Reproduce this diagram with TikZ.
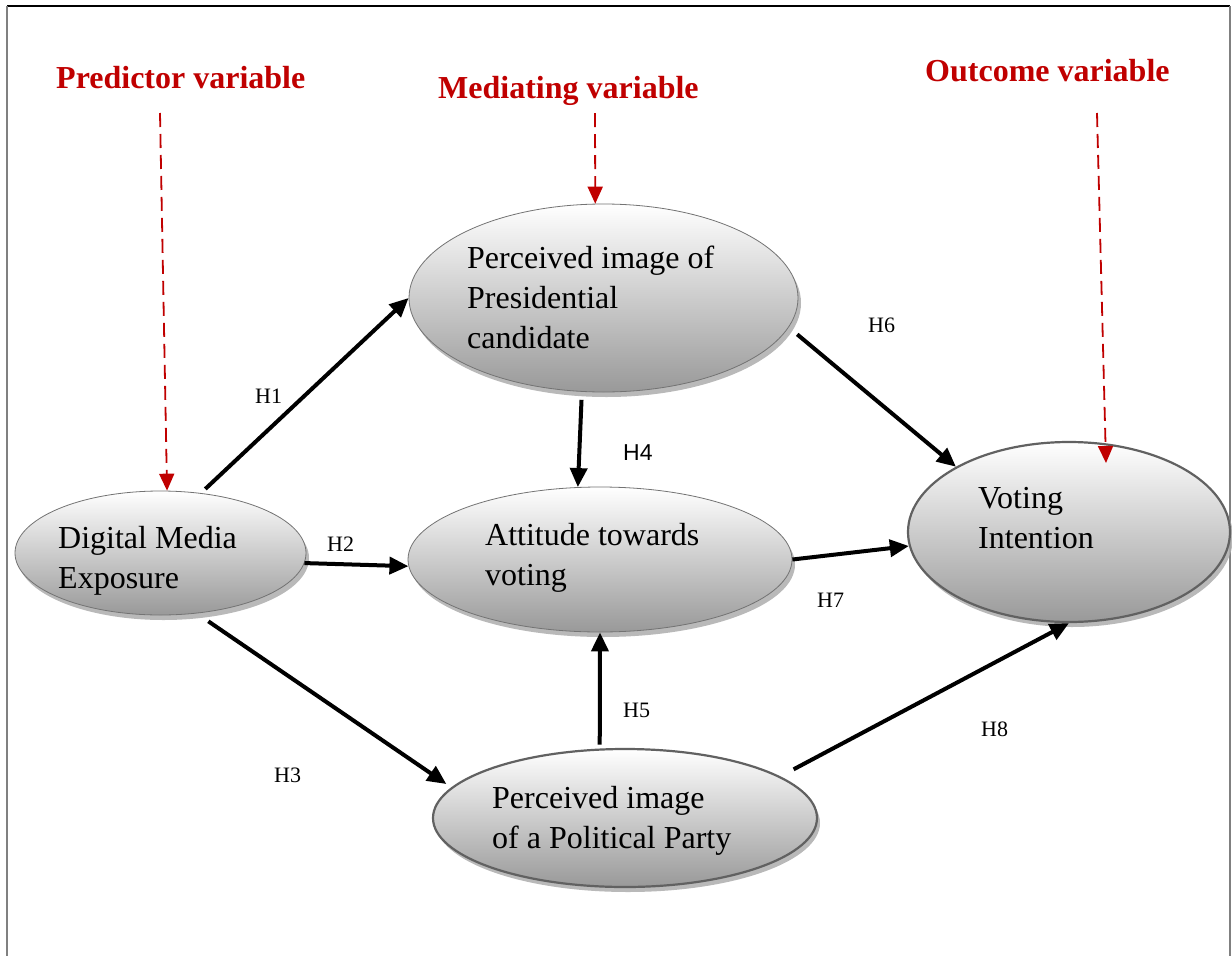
\documentclass[tikz,border=0pt]{standalone}
\usepackage{fontspec}
\setmainfont{Liberation Serif}
\newfontfamily\hsans{Liberation Sans}
\usetikzlibrary{arrows.meta,shapes.geometric,shadows,calc}
\definecolor{darkred}{HTML}{C00000}
\begin{document}
\begin{tikzpicture}[x=1pt,y=-1pt,
  var/.style={ellipse, inner sep=0pt, draw=black!55, line width=0.8pt,
    top color=white, bottom color=black!40,
    drop shadow={shadow xshift=3pt, shadow yshift=-5pt, fill=black!32, opacity=0.85}},
  thickvar/.style={var, draw=black!62, line width=2.2pt},
  body/.style={anchor=base west, align=left, inner sep=0pt,
    font=\fontsize{32}{40}\selectfont},
  head/.style={anchor=base west, inner sep=0pt, text=darkred,
    font=\fontsize{32}{38}\selectfont\bfseries},
  hlab/.style={anchor=base west, inner sep=0pt, font=\fontsize{22}{26}\selectfont},
  harrow/.style={line width=4pt, -{Triangle[length=19pt,width=17pt]}},
  rarrow/.style={darkred, line width=1.8pt, dash pattern=on 14pt off 7pt,
    -{Triangle[length=17pt,width=15pt]}}
]
\useasboundingbox (0,0) rectangle (1232,956);
\fill[white] (0,0) rectangle (1232,956);
% frame
\draw[black, line width=1.5pt] (7,6) -- (1230,6);
\draw[black!50, line width=2pt] (7,6) -- (7,956);
\draw[black!50, line width=2pt] (1230,6) -- (1230,956);

% ellipses
\node[var, minimum width=291pt, minimum height=124pt] (dme) at (160.5,553) {};
\node[var, minimum width=389pt, minimum height=188pt] (ppc) at (603.5,298) {};
\node[var, minimum width=384pt, minimum height=145pt] (att) at (600,559.5) {};
\node[thickvar, minimum width=322pt, minimum height=180pt] (vi) at (1069,532) {};
\node[thickvar, minimum width=384pt, minimum height=138pt] (ppp) at (625,818) {};

% texts (base = last line)
\node[body] (tdme) at (58,588) {Digital Media\\Exposure};
\node[body] (tppc) at (467,348) {Perceived image of\\Presidential\\candidate};
\node[body] (tatt) at (485,585) {Attitude towards\\voting};
\node[body] (tvi) at (978,548) {Voting\\Intention};
\node[body] (tppp) at (492,848) {Perceived image\\of a Political Party};

% headings
\node[head] (hp) at (56,88) {Predictor variable};
\node[head] (hm) at (438,98) {Mediating variable};
\node[head] (ho) at (925,81) {Outcome variable};

% red dashed arrows
\coordinate (p1) at (160,113);
\coordinate (m1) at (595,113);
\coordinate (o1) at (1097,113);
\coordinate (o2) at ($(vi.center)+(37,-69)$);
\draw[rarrow] (p1) -- (dme.84);
\draw[rarrow] (m1) -- (ppc.95);
\draw[rarrow] (o1) -- (o2);

% hypothesis arrows
\draw[harrow, shorten <=6pt] (dme.56) -- (ppc.west);
\draw[harrow] (dme.-4) -- (att.182);
\draw[harrow, shorten <=14pt, shorten >=6pt] (dme.-59) -- (ppp.170.6);
\draw[harrow, shorten <=8pt] (ppc.257) -- (att.107);
\draw[harrow, shorten <=4pt] (ppp.110) -- (att.south);
\draw[harrow, shorten <=11pt] (ppc.-9.9) -- (vi.150.4);
\draw[harrow] (att.east) -- (vi.185);
\draw[harrow, shorten <=15pt] (ppp.15.4) -- (vi.south);

% hypothesis labels
\node[hlab] (h1) at (255,403) {H1};
\node[hlab] (h2) at (327,551) {H2};
\node[hlab] (h3) at (274,782) {H3};
\node[hlab, font=\fontsize{23}{26}\selectfont\hsans] (h4) at (623,460) {H4};
\node[hlab] (h5) at (623,717) {H5};
\node[hlab] (h6) at (868,332) {H6};
\node[hlab] (h7) at (817,607) {H7};
\node[hlab] (h8) at (981,736) {H8};
\end{tikzpicture}
\end{document}
